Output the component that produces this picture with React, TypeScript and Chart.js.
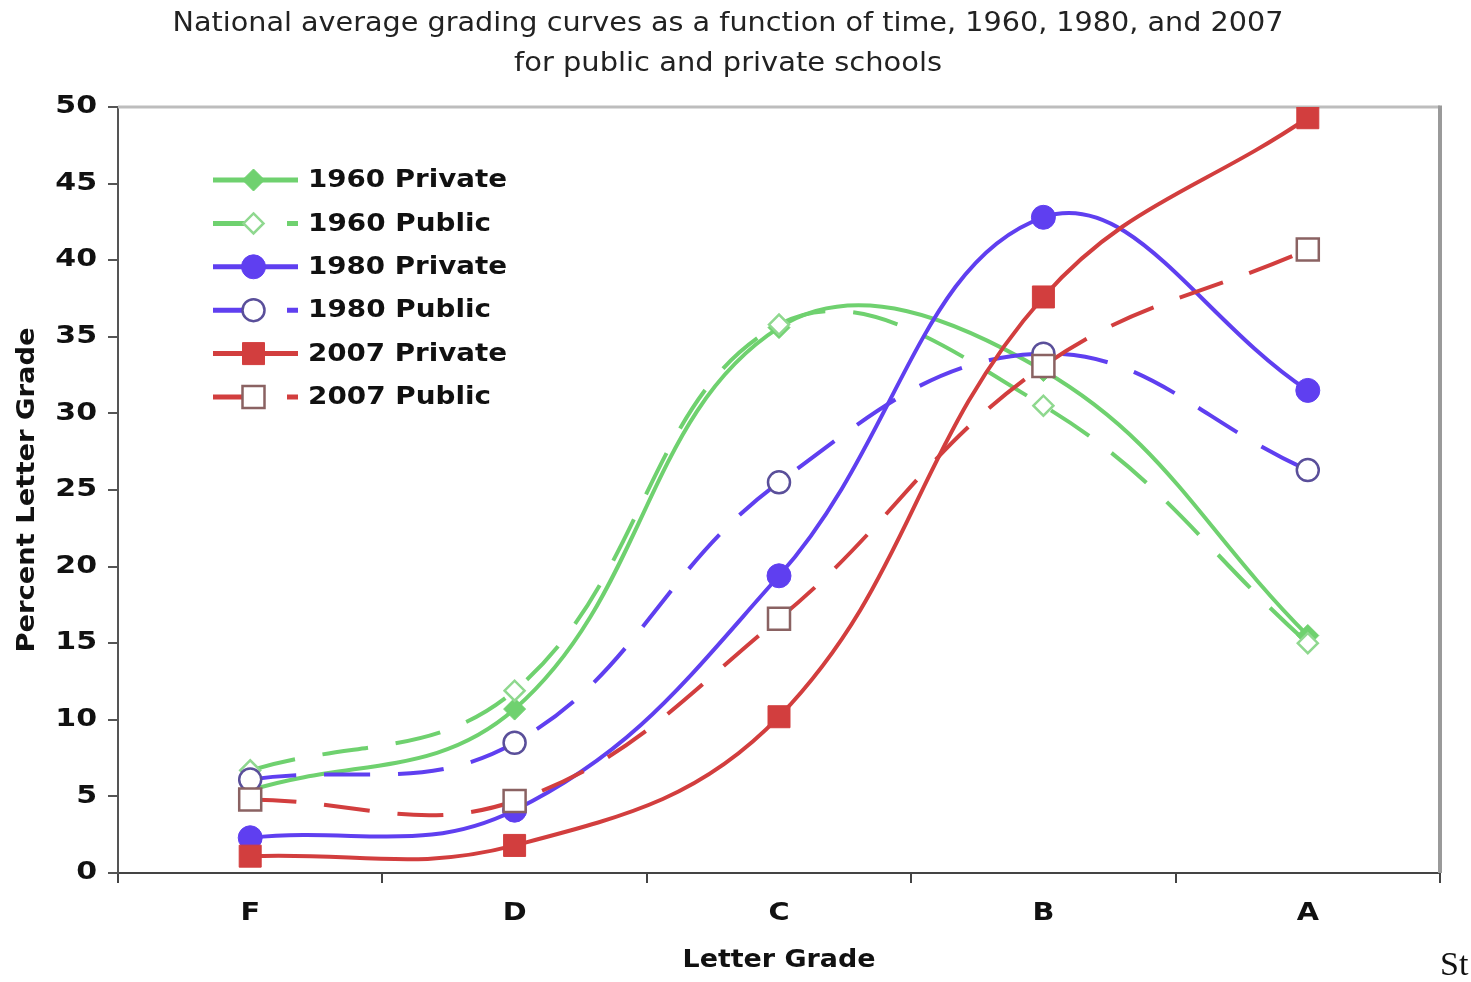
import React, { useEffect, useRef } from "react";
import { Chart, registerables } from "chart.js";

Chart.register(...registerables);

// ---------- data ----------
const categories = ["F", "D", "C", "B", "A"];
const seriesNames = [
  "1960 Private",
  "1960 Public",
  "1980 Private",
  "1980 Public",
  "2007 Private",
  "2007 Public",
];
const private1960 = [5.4, 10.7, 35.6, 32.8, 15.5];
const public1960 = [6.7, 11.9, 35.8, 30.5, 15.0];
const private1980 = [2.3, 4.1, 19.4, 42.8, 31.5];
const public1980 = [6.1, 8.5, 25.5, 33.9, 26.3];
const private2007 = [1.1, 1.8, 10.2, 37.6, 49.3];
const public2007 = [4.8, 4.7, 16.6, 33.1, 40.7];
const yTicks = [0, 5, 10, 15, 20, 25, 30, 35, 40, 45, 50];
const titleLines = [
  "National average grading curves as a function of time, 1960, 1980, and 2007",
  "for public and private schools",
];
const xTitle = "Letter Grade";
const yTitle = "Percent Letter Grade";

// ---------- styles ----------
const GREEN = "#6fd16f";
const BLUE = "#5f3ff0";
const RED = "#d23e3e";
const FONT = "'DejaVu Sans', Verdana, sans-serif";
const DASH = [46, 28];
const TEXT = "#111111";

type Style = {
  color: string;
  dashed: boolean;
  shape: "diamond" | "circle" | "square";
  filled: boolean;
  radius: number;
  outline: string;
};

const styles: Style[] = [
  { color: GREEN, dashed: false, shape: "diamond", filled: true, radius: 11, outline: GREEN },
  { color: GREEN, dashed: true, shape: "diamond", filled: false, radius: 10, outline: "#8fd88f" },
  { color: BLUE, dashed: false, shape: "circle", filled: true, radius: 12, outline: BLUE },
  { color: BLUE, dashed: true, shape: "circle", filled: false, radius: 11, outline: "#5a4f9a" },
  { color: RED, dashed: false, shape: "square", filled: true, radius: 11, outline: RED },
  { color: RED, dashed: true, shape: "square", filled: false, radius: 11, outline: "#8a6262" },
];

const seriesValues = [private1960, public1960, private1980, public1980, private2007, public2007];

function drawMarker(ctx: CanvasRenderingContext2D, s: Style, x: number, y: number) {
  ctx.save();
  ctx.setLineDash([]);
  ctx.beginPath();
  const r = s.radius;
  if (s.shape === "circle") {
    ctx.arc(x, y, r, 0, Math.PI * 2);
  } else if (s.shape === "square") {
    ctx.rect(x - r, y - r, 2 * r, 2 * r);
  } else {
    ctx.moveTo(x, y - r);
    ctx.lineTo(x + r, y);
    ctx.lineTo(x, y + r);
    ctx.lineTo(x - r, y);
    ctx.closePath();
  }
  ctx.fillStyle = s.filled ? s.color : "#ffffff";
  ctx.fill();
  ctx.lineWidth = s.filled ? 1 : 2.5;
  ctx.strokeStyle = s.outline;
  ctx.stroke();
  ctx.restore();
}

// draws text stretched horizontally (the reference's text is wide)
function stretchedText(
  ctx: CanvasRenderingContext2D,
  text: string,
  x: number,
  y: number,
  font: string,
  sx: number,
  align: CanvasTextAlign,
  rotate = 0
) {
  ctx.save();
  ctx.font = font;
  ctx.fillStyle = TEXT;
  ctx.textAlign = align;
  ctx.textBaseline = "middle";
  ctx.translate(x, y);
  if (rotate) ctx.rotate(rotate);
  ctx.scale(sx, 1);
  ctx.fillText(text, 0, 0);
  ctx.restore();
}

function fitFactor(ctx: CanvasRenderingContext2D, text: string, font: string, target: number) {
  ctx.save();
  ctx.font = font;
  const w = ctx.measureText(text).width;
  ctx.restore();
  return target / w;
}

const pointStyleFor = (s: Style) =>
  s.shape === "circle" ? "circle" : s.shape === "square" ? "rect" : "rectRot";
const pointRadiusFor = (s: Style) =>
  s.shape === "square" ? s.radius * Math.SQRT2 : s.radius;

const decorPlugin = {
  id: "decor",
  beforeDatasetsDraw(chart: any) {
    const { ctx, chartArea } = chart;
    ctx.save();
    ctx.strokeStyle = "#bdbdbd";
    ctx.lineWidth = 3;
    ctx.beginPath();
    ctx.moveTo(chartArea.left, chartArea.top);
    ctx.lineTo(chartArea.right, chartArea.top);
    ctx.stroke();
    ctx.strokeStyle = "#9a9a9a";
    ctx.lineWidth = 4;
    ctx.beginPath();
    ctx.moveTo(chartArea.right, chartArea.top - 1.5);
    ctx.lineTo(chartArea.right, chartArea.bottom);
    ctx.stroke();
    ctx.restore();
  },
  afterDraw(chart: any) {
    const { ctx, scales } = chart;
    const xs = scales.x;
    const ysc = scales.y;
    ctx.save();

    // title
    const titleFont = `26px ${FONT}`;
    const targetW = [1111, 428];
    const ty = [24, 64];
    titleLines.forEach((t, i) => {
      ctx.save();
      ctx.font = titleFont;
      ctx.fillStyle = "#222222";
      ctx.textAlign = "center";
      ctx.textBaseline = "middle";
      const sx = targetW[i] / ctx.measureText(t).width;
      ctx.translate(728, ty[i]);
      ctx.scale(sx, 1);
      ctx.fillText(t, 0, 0);
      ctx.restore();
    });

    // x tick labels
    const xFont = `bold 25px ${FONT}`;
    categories.forEach((c, i) => {
      stretchedText(ctx, c, xs.getPixelForTick(i), 913, xFont, 1.15, "center");
    });
    // y tick labels
    const yFont = `bold 24px ${FONT}`;
    yTicks.forEach((v) => {
      stretchedText(ctx, String(v), 97, ysc.getPixelForValue(v), yFont, 1.25, "right");
    });
    // axis titles
    const axFont = `bold 24px ${FONT}`;
    stretchedText(ctx, xTitle, (xs.left + xs.right) / 2, 961, axFont, fitFactor(ctx, xTitle, axFont, 193), "center");
    stretchedText(
      ctx,
      yTitle,
      28,
      (ysc.top + ysc.bottom) / 2,
      axFont,
      fitFactor(ctx, yTitle, axFont, 325),
      "center",
      -Math.PI / 2
    );

    // legend
    const x0 = 213;
    const x1 = 298;
    seriesNames.forEach((name, i) => {
      const s = styles[i];
      const y = 180 + i * 43.4;
      ctx.save();
      ctx.strokeStyle = s.color;
      ctx.lineWidth = 5;
      ctx.setLineDash(s.dashed ? DASH : []);
      ctx.beginPath();
      ctx.moveTo(x0, y);
      ctx.lineTo(x1, y);
      ctx.stroke();
      ctx.restore();
      drawMarker(ctx, s, (x0 + x1) / 2 - 2, y);
      const lf = `bold 24px ${FONT}`;
      const target = name.endsWith("Private") ? 199 : 183;
      stretchedText(ctx, name, 308, y + 1, lf, fitFactor(ctx, name, lf, target), "left");
    });
    ctx.restore();
  },
};

export default function App() {
  const ref = useRef<HTMLCanvasElement | null>(null);

  useEffect(() => {
    if (!ref.current) return;
    const chart = new Chart(ref.current, {
      type: "line",
      data: {
        labels: categories,
        datasets: seriesNames.map((name, i) => {
          const s = styles[i];
          return {
            label: name,
            data: seriesValues[i],
            borderColor: s.color,
            borderWidth: 4,
            borderDash: s.dashed ? DASH : [],
            tension: 0.4,
            fill: false,
            pointStyle: pointStyleFor(s),
            pointRadius: pointRadiusFor(s),
            pointBackgroundColor: s.filled ? s.color : "#ffffff",
            pointBorderColor: s.outline,
            pointBorderWidth: s.filled ? 1 : 2.5,
            order: seriesNames.length - i,
          };
        }),
      },
      options: {
        responsive: false,
        animation: false,
        devicePixelRatio: 1,
        layout: { padding: { top: 107, right: 31, bottom: 0, left: 0 } },
        plugins: {
          legend: { display: false },
          title: { display: false },
          tooltip: { enabled: false },
        },
        scales: {
          x: {
            type: "category",
            offset: true,
            grid: {
              offset: true,
              drawOnChartArea: false,
              drawTicks: true,
              tickLength: 10,
              color: "#444444",
              lineWidth: 2,
            },
            border: { display: true, color: "#444444", width: 2 },
            ticks: { display: false },
            title: { display: false },
            afterFit: (scale: any) => {
              scale.height = 109;
            },
          },
          y: {
            min: 0,
            max: 50,
            afterBuildTicks: (scale: any) => {
              scale.ticks = yTicks.map((v) => ({ value: v }));
            },
            grid: {
              drawOnChartArea: false,
              drawTicks: true,
              tickLength: 10,
              color: "#555555",
              lineWidth: 2,
            },
            border: { display: true, color: "#555555", width: 2 },
            ticks: { display: false },
            title: { display: false },
            afterFit: (scale: any) => {
              scale.width = 118;
            },
          },
        },
      },
      plugins: [decorPlugin],
    });
    return () => chart.destroy();
  }, []);

  return (
    <div style={{ position: "absolute", left: 0, top: 0, width: 1471, height: 982, background: "#ffffff", overflow: "hidden" }}>
      <canvas ref={ref} width={1471} height={982} style={{ display: "block" }} />
      <div
        style={{
          position: "absolute",
          left: 1440,
          top: 944,
          width: 31,
          overflow: "hidden",
          whiteSpace: "nowrap",
          fontFamily: "'Liberation Serif', 'Times New Roman', serif",
          fontSize: 34,
          color: "#111111",
          lineHeight: "40px",
        }}
      >
        St
      </div>
    </div>
  );
}
